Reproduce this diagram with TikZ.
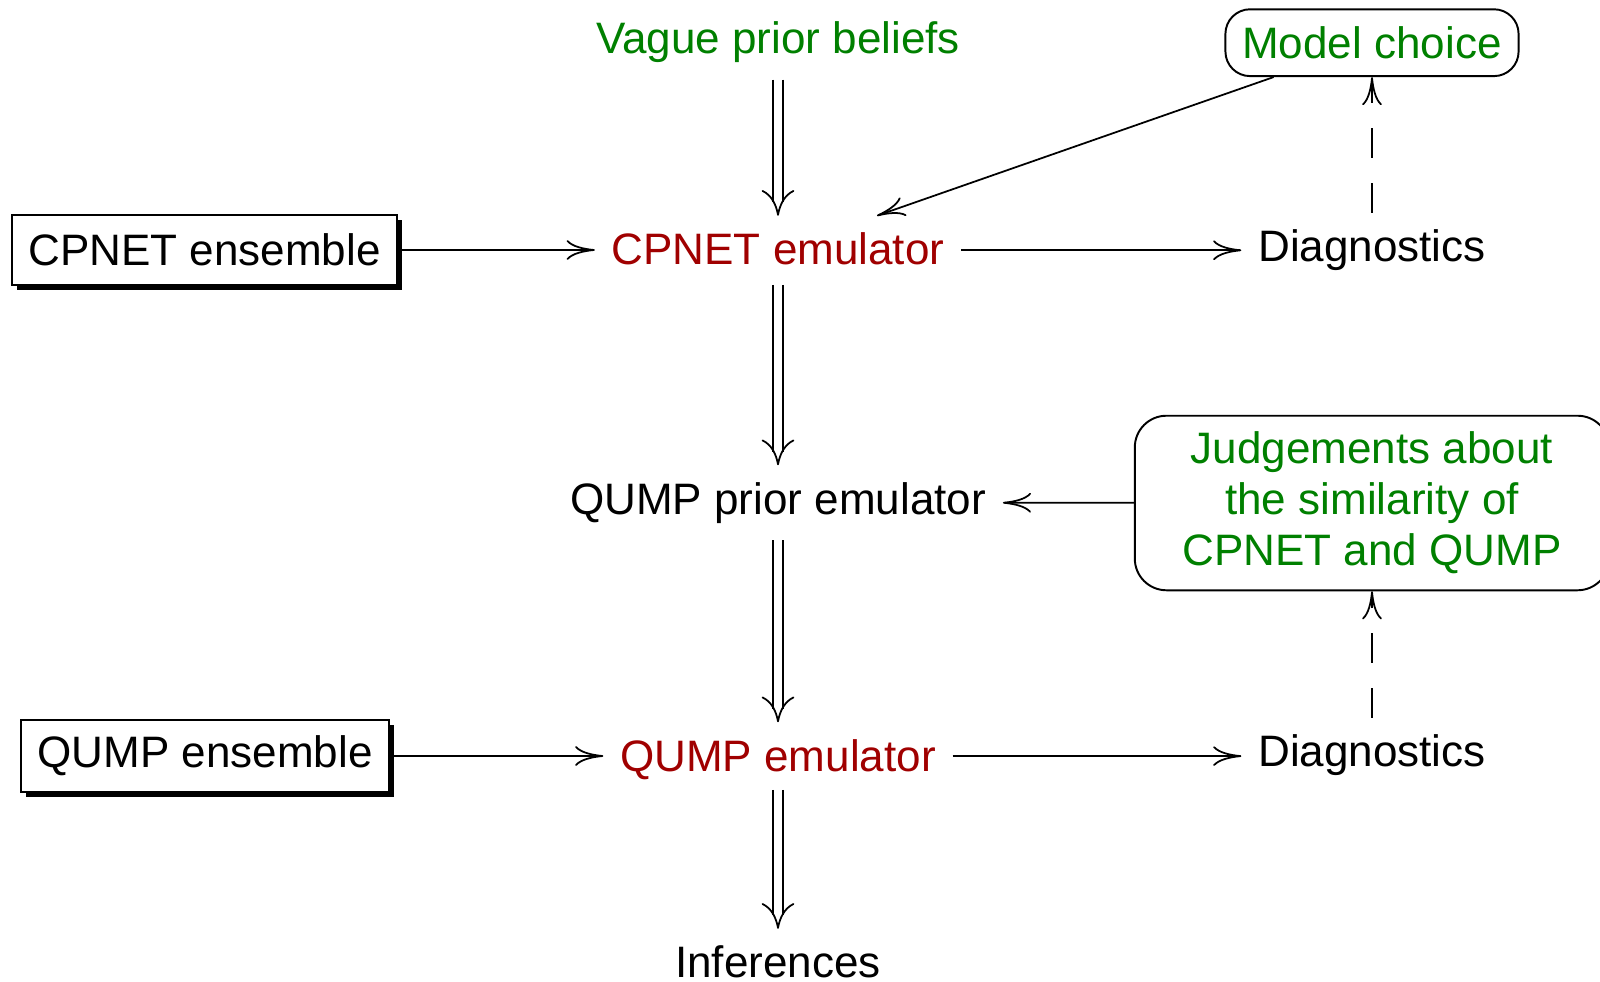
\documentclass[tikz,border=0pt]{standalone}
\usepackage{fontspec}
\setmainfont{Liberation Sans}
\usetikzlibrary{arrows.meta,shadows}
\definecolor{dgreen}{RGB}{0,128,0}
\definecolor{dred}{RGB}{160,0,0}
\newcommand\dblarrow[2]{%
  \draw[shaft] ([xshift=-1.42pt]#1.south) -- ([xshift=-1.42pt]#2.north);
  \draw[shaft] ([xshift=1.42pt]#1.south) -- ([xshift=1.42pt]#2.north);
  \path[dtip] (#1.south) -- (#2.north);}
\begin{document}
\begin{tikzpicture}[x=0.01cm,y=-0.01cm,
  every node/.style={font=\fontsize{12.52}{14.5}\selectfont},
  txt/.style={inner xsep=4.6pt,inner ysep=4.6pt},
  shbox/.style={draw,line width=0.55pt,fill=white,inner xsep=4.7pt,inner ysep=4.6pt,
    minimum height=19.9pt,
    drop shadow={shadow xshift=1.45pt,shadow yshift=-1.45pt,fill=black,opacity=1}},
  rbox/.style={draw,line width=0.55pt,rounded corners=7pt,inner xsep=4.8pt,inner ysep=4.6pt,
    text=dgreen,align=center},
  arr/.style={line width=0.5pt,-{Computer Modern Rightarrow[length=8pt,width=5.6pt]}},
  darr/.style={arr,dash pattern=on 8.5pt off 7.1pt},
  shaft/.style={line width=0.5pt,shorten >=3.9pt},
  dtip/.style={tips,line width=0.5pt,-{Computer Modern Rightarrow[length=7.3pt,width=9.3pt]}}
]
\useasboundingbox (0,0) rectangle (1600,982);

\node[txt,anchor=base,text=dgreen] (v) at (778,53.5) {Vague prior beliefs};
\node[txt,anchor=base,text=dred,text depth=1pt] (ce) at (778,264.5) {CPNET emulator};
\node[txt,anchor=base] (qp) at (778,514) {QUMP prior emulator};
\node[txt,anchor=base,text=dred,text depth=0.6pt] (qe) at (778,771) {QUMP emulator};
\node[txt,anchor=base] (inf) at (778,977.5) {Inferences};
\node[txt,anchor=base] (d1) at (1372,261.5) {Diagnostics};
\node[txt,anchor=base] (d2) at (1372,766.5) {Diagnostics};

\node[shbox] (cpe) at (204.5,250) {CPNET ensemble};
\node[shbox,minimum height=19.6pt] (qpe) at (205,756) {QUMP ensemble};

\node[rbox,minimum height=19pt] (mc) at (1372,42.7) {Model choice};
\node[rbox,minimum width=134.9pt,minimum height=48pt,rounded corners=9pt] (jd) at (1372,503)
  {Judgements about\\the similarity of\\CPNET and QUMP};

\dblarrow{v}{ce}
\dblarrow{ce}{qp}
\dblarrow{qp}{qe}
\dblarrow{qe}{inf}

\draw[arr] (cpe.east) -- (cpe.east -| ce.west);
\draw[arr] (ce.east) -- (ce.east -| d1.west);
\draw[arr] (qpe) -- (qe.west |- qpe);
\draw[arr] (qe.east) -- (qe.east -| d2.west);
\draw[arr] (jd) -- (qp);
\draw[arr] (mc) -- (ce);
\draw[darr] (d1) -- (mc);
\draw[darr] (d2) -- (jd);
\end{tikzpicture}
\end{document}
